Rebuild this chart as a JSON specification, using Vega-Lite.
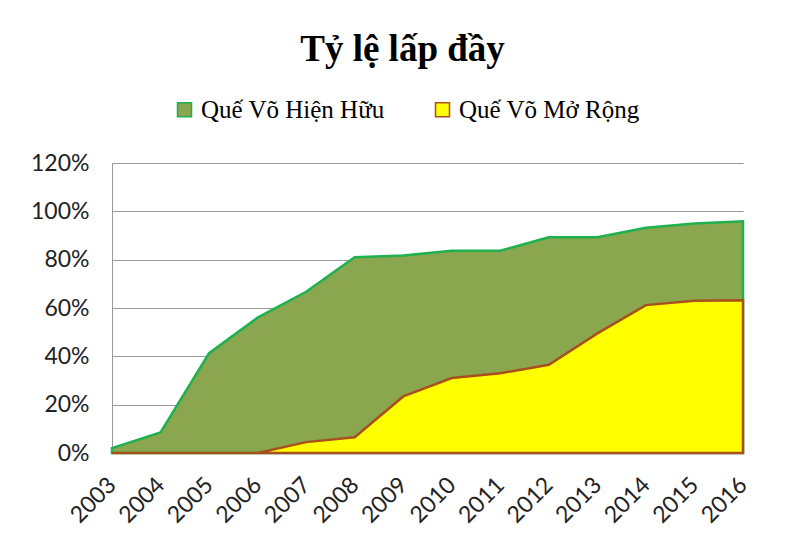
{
  "$schema": "https://vega.github.io/schema/vega-lite/v6.json",
  "width": 631,
  "height": 290,
  "autosize": {"type": "none"},
  "padding": {"left": 112, "top": 163, "right": 53, "bottom": 92},
  "background": "white",
  "title": {
    "text": "Tỷ lệ lấp đầy",
    "font": "Liberation Serif",
    "fontSize": 37,
    "fontWeight": "bold",
    "color": "#000000",
    "anchor": "middle",
    "dx": -25,
    "offset": 28
  },
  "config": {
    "view": {"stroke": null},
    "axis": {
      "labelFont": "Lato",
      "labelFontSize": 23,
      "labelColor": "#222222",
      "gridColor": "#9a9a9a",
      "domainColor": "#9a9a9a",
      "ticks": false,
      "title": null
    }
  },
  "data": {
    "values": [
      {"year": "2003", "series": "Quế Võ Hiện Hữu", "value": 0.02},
      {"year": "2004", "series": "Quế Võ Hiện Hữu", "value": 0.085},
      {"year": "2005", "series": "Quế Võ Hiện Hữu", "value": 0.413},
      {"year": "2006", "series": "Quế Võ Hiện Hữu", "value": 0.56},
      {"year": "2007", "series": "Quế Võ Hiện Hữu", "value": 0.667},
      {"year": "2008", "series": "Quế Võ Hiện Hữu", "value": 0.81},
      {"year": "2009", "series": "Quế Võ Hiện Hữu", "value": 0.817},
      {"year": "2010", "series": "Quế Võ Hiện Hữu", "value": 0.837},
      {"year": "2011", "series": "Quế Võ Hiện Hữu", "value": 0.837},
      {"year": "2012", "series": "Quế Võ Hiện Hữu", "value": 0.893},
      {"year": "2013", "series": "Quế Võ Hiện Hữu", "value": 0.893},
      {"year": "2014", "series": "Quế Võ Hiện Hữu", "value": 0.932},
      {"year": "2015", "series": "Quế Võ Hiện Hữu", "value": 0.95},
      {"year": "2016", "series": "Quế Võ Hiện Hữu", "value": 0.959},
      {"year": "2003", "series": "Quế Võ Mở Rộng", "value": 0},
      {"year": "2004", "series": "Quế Võ Mở Rộng", "value": 0},
      {"year": "2005", "series": "Quế Võ Mở Rộng", "value": 0},
      {"year": "2006", "series": "Quế Võ Mở Rộng", "value": 0},
      {"year": "2007", "series": "Quế Võ Mở Rộng", "value": 0.045},
      {"year": "2008", "series": "Quế Võ Mở Rộng", "value": 0.065},
      {"year": "2009", "series": "Quế Võ Mở Rộng", "value": 0.234},
      {"year": "2010", "series": "Quế Võ Mở Rộng", "value": 0.31},
      {"year": "2011", "series": "Quế Võ Mở Rộng", "value": 0.33},
      {"year": "2012", "series": "Quế Võ Mở Rộng", "value": 0.365},
      {"year": "2013", "series": "Quế Võ Mở Rộng", "value": 0.495},
      {"year": "2014", "series": "Quế Võ Mở Rộng", "value": 0.612},
      {"year": "2015", "series": "Quế Võ Mở Rộng", "value": 0.63},
      {"year": "2016", "series": "Quế Võ Mở Rộng", "value": 0.632}
    ]
  },
  "mark": {"type": "area", "strokeWidth": 2.5, "fillOpacity": 1, "line": false},
  "encoding": {
    "x": {
      "field": "year",
      "type": "ordinal",
      "scale": {"type": "point", "padding": 0},
      "axis": {"labelAngle": -45, "labelAlign": "right", "labelBaseline": "middle", "labelPadding": 28, "grid": false, "labelOverlap": false}
    },
    "y": {
      "field": "value",
      "type": "quantitative",
      "stack": null,
      "scale": {"domain": [0, 1.2], "nice": false},
      "axis": {"values": [0, 0.2, 0.4, 0.6, 0.8, 1.0, 1.2], "format": ".0%", "grid": true, "labelPadding": 23}
    },
    "fill": {
      "field": "series",
      "type": "nominal",
      "scale": {"domain": ["Quế Võ Hiện Hữu", "Quế Võ Mở Rộng"], "range": ["#8aa64e", "#ffff00"]},
      "legend": {
        "title": null,
        "orient": "none",
        "legendX": 60,
        "legendY": -66,
        "direction": "horizontal",
        "symbolType": "square",
        "symbolSize": 196,
        "symbolStrokeWidth": 1.5,
        "labelFont": "Liberation Serif",
        "labelFontSize": 25,
        "labelColor": "#000000",
        "labelOffset": 4,
        "columnPadding": 45,
        "labelLimit": 400
      }
    },
    "stroke": {
      "field": "series",
      "type": "nominal",
      "scale": {"domain": ["Quế Võ Hiện Hữu", "Quế Võ Mở Rộng"], "range": ["#1fb04f", "#a8501c"]},
      "legend": {
        "title": null,
        "orient": "none",
        "legendX": 60,
        "legendY": -66,
        "direction": "horizontal",
        "symbolType": "square",
        "symbolSize": 196,
        "symbolStrokeWidth": 1.5,
        "labelFont": "Liberation Serif",
        "labelFontSize": 25,
        "labelColor": "#000000",
        "labelOffset": 4,
        "columnPadding": 45,
        "labelLimit": 400
      }
    }
  }
}
